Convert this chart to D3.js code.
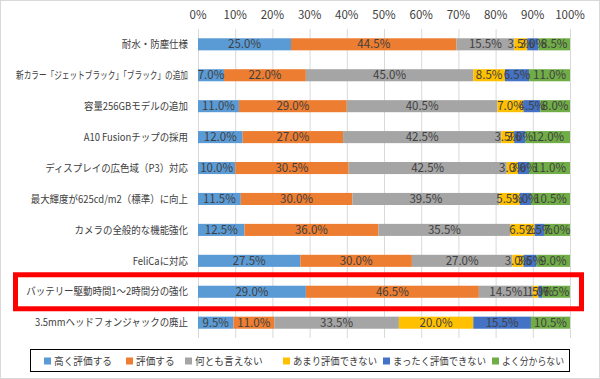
<!DOCTYPE html>
<html>
<head>
<meta charset="utf-8">
<script src="https://cdn.jsdelivr.net/npm/d3@7"></script>
<style>
  body { margin: 0; background: #fff; }
  svg { display: block; font-family: "Noto Sans CJK JP", "Noto Sans", sans-serif; }
  .tick-label { font-size: 11.5px; fill: #404040; }
  .cat-label { font-size: 10.5px; fill: #404040; }
  .val-label { font-size: 11.5px; fill: #404040; }
  .legend-text { font-size: 10.5px; fill: #404040; }
</style>
</head>
<body>
<div id="vis"></div>
<script>

var categories = [
  "耐水・防塵仕様",
  "新カラー「ジェットブラック」「ブラック」の追加",
  "容量256GBモデルの追加",
  "A10 Fusionチップの採用",
  "ディスプレイの広色域（P3）対応",
  "最大輝度が625cd/m2（標準）に向上",
  "カメラの全般的な機能強化",
  "FeliCaに対応",
  "バッテリー駆動時間1～2時間分の強化",
  "3.5mmヘッドフォンジャックの廃止"
];
var seriesNames = ["高く評価する", "評価する", "何とも言えない", "あまり評価できない", "まったく評価できない", "よく分からない"];
var seriesColors = ["#5B9BD5", "#ED7D31", "#A5A5A5", "#FFC000", "#4472C4", "#70AD47"];

var veryGood  = [25.0, 7.0, 11.0, 12.0, 10.0, 11.5, 12.5, 27.5, 29.0, 9.5];
var good      = [44.5, 22.0, 29.0, 27.0, 30.5, 30.0, 36.0, 30.0, 46.5, 11.0];
var neutral   = [15.5, 45.0, 40.5, 42.5, 42.5, 39.5, 35.5, 27.0, 14.5, 33.5];
var notMuch   = [3.5, 8.5, 7.0, 3.5, 3.0, 5.5, 6.5, 3.0, 1.5, 20.0];
var notAtAll  = [3.0, 6.5, 4.5, 3.0, 3.0, 3.0, 2.5, 3.5, 1.0, 15.5];
var dontKnow  = [8.5, 11.0, 8.0, 12.0, 11.0, 10.5, 7.0, 9.0, 7.5, 10.5];
var tickValues = [0, 10, 20, 30, 40, 50, 60, 70, 80, 90, 100];
var highlightIndex = 8;

// squeeze a text horizontally so it fits in maxWidth
function squeeze(selection, maxWidth, factor) {
  selection.each(function() {
    var w = this.getComputedTextLength();
    var target = Math.min(w * factor, maxWidth);
    if (target < w) {
      d3.select(this).attr("textLength", target).attr("lengthAdjust", "spacingAndGlyphs");
    }
  });
}

var chart = function() {
  var width = 600, height = 379;
  var margin = {top: 29, left: 198, right: 30, bottom: 41};

  var svg = d3.select("#vis").append("svg")
    .attr("width", width)
    .attr("height", height);

  // outer frame
  svg.append("rect")
    .attr("x", 0.5).attr("y", 0.5)
    .attr("width", width - 1).attr("height", height - 1)
    .attr("fill", "#fff")
    .attr("stroke", "#d9d9d9");

  var x = d3.scaleLinear().domain([0, 100]).range([margin.left, width - margin.right]);
  var y = d3.scaleBand().domain(categories)
    .range([margin.top, height - margin.bottom])
    .paddingInner(0.61).paddingOuter(0.3);

  var series = [veryGood, good, neutral, notMuch, notAtAll, dontKnow];
  var rows = categories.map(function(c, i) {
    var row = {cat: c};
    seriesNames.forEach(function(s, j) { row[s] = series[j][i]; });
    return row;
  });
  var stacked = d3.stack().keys(seriesNames)(rows);

  // gridlines
  svg.append("g").selectAll("line")
    .data(tickValues).enter()
    .append("line")
    .attr("x1", function(d) { return x(d) + 0.5; })
    .attr("x2", function(d) { return x(d) + 0.5; })
    .attr("y1", margin.top)
    .attr("y2", height - margin.bottom)
    .attr("stroke", "#d9d9d9");

  // top axis labels
  svg.append("g").selectAll("text")
    .data(tickValues).enter()
    .append("text")
    .attr("class", "tick-label")
    .attr("x", function(d) { return x(d); })
    .attr("y", 19)
    .attr("text-anchor", "middle")
    .text(function(d) { return d + "%"; });

  // category labels
  svg.append("g").selectAll("text")
    .data(categories).enter()
    .append("text")
    .attr("class", "cat-label")
    .attr("x", margin.left - 10)
    .attr("y", function(d) { return y(d) + y.bandwidth() / 2; })
    .attr("dy", "0.35em")
    .attr("text-anchor", "end")
    .text(function(d) { return d; })
    .call(squeeze, 172, 0.9);

  var layer = svg.append("g").selectAll("g")
    .data(stacked).enter()
    .append("g")
    .attr("fill", function(d, i) { return seriesColors[i]; });

  layer.selectAll("rect")
    .data(function(d) { return d; }).enter()
    .append("rect")
    .attr("x", function(d) { return x(d[0]); })
    .attr("y", function(d) { return y(d.data.cat); })
    .attr("width", function(d) { return x(d[1]) - x(d[0]); })
    .attr("height", y.bandwidth());

  var labels = svg.append("g").selectAll("g")
    .data(stacked).enter()
    .append("g");

  labels.selectAll("text")
    .data(function(d) { return d; }).enter()
    .append("text")
    .attr("class", "val-label")
    .attr("x", function(d) { return (x(d[0]) + x(d[1])) / 2; })
    .attr("y", function(d) { return y(d.data.cat) + y.bandwidth() / 2; })
    .attr("dy", "0.36em")
    .attr("text-anchor", "middle")
    .text(function(d) { return (d[1] - d[0]).toFixed(1) + "%"; });

  // red highlight box
  var hy = y(categories[highlightIndex]) + y.bandwidth() / 2;
  svg.append("rect")
    .attr("x", 15.5)
    .attr("y", hy - 17)
    .attr("width", 566)
    .attr("height", 34)
    .attr("fill", "none")
    .attr("stroke", "#ff0000")
    .attr("stroke-width", 5);

  // legend
  var legend = svg.append("g");
  legend.append("rect")
    .attr("x", 30.5).attr("y", 349.5)
    .attr("width", 539).attr("height", 22)
    .attr("fill", "#fff")
    .attr("stroke", "#000");

  var legendX = [44, 126, 185, 283, 383, 492];
  var item = legend.selectAll("g.item")
    .data(seriesNames).enter()
    .append("g")
    .attr("class", "item")
    .attr("transform", function(d, i) { return "translate(" + legendX[i] + ",361)"; });
  item.append("rect")
    .attr("x", 0).attr("y", -3.5)
    .attr("width", 7).attr("height", 7)
    .attr("fill", function(d, i) { return seriesColors[i]; });
  item.append("text")
    .attr("class", "legend-text")
    .attr("x", 10)
    .attr("dy", "0.35em")
    .text(function(d) { return d; })
    .each(function(d, i) {
      var maxW = (i < legendX.length - 1 ? legendX[i + 1] : 570) - legendX[i] - 16;
      d3.select(this).call(squeeze, maxW, 0.92);
    });
};

chart();
</script>
</body>
</html>
